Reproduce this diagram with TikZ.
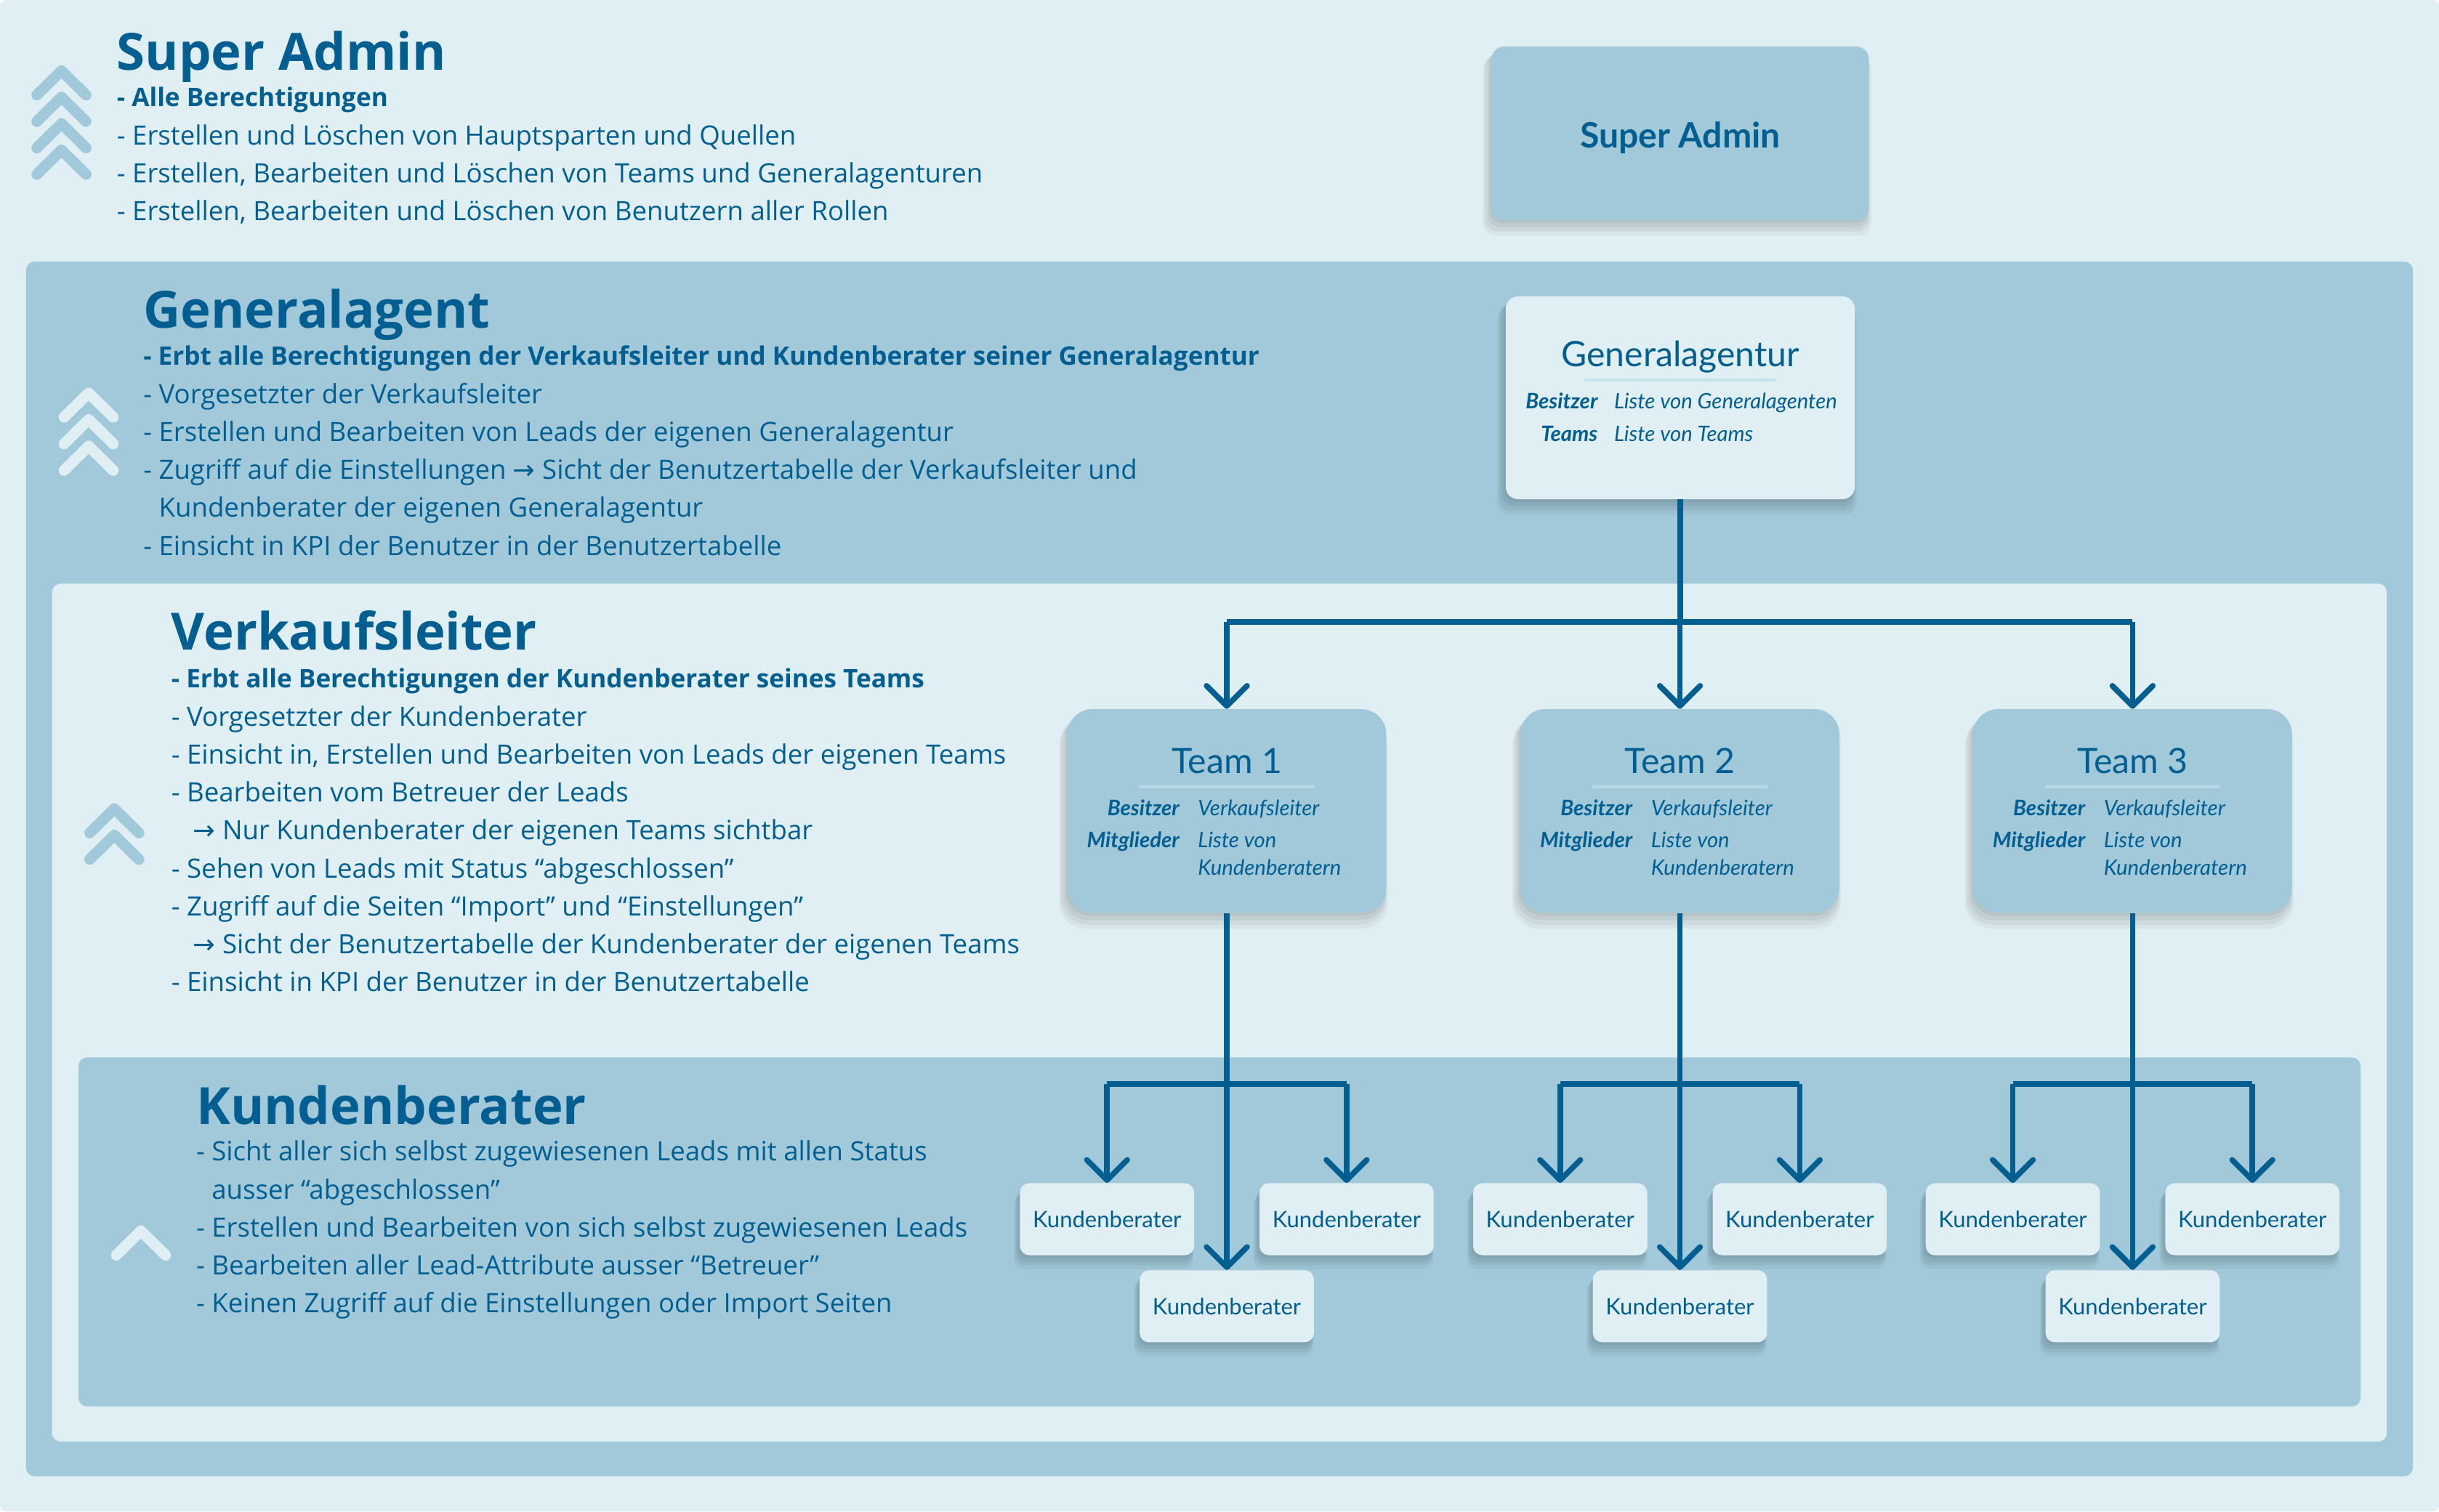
\documentclass[tikz,border=0pt]{standalone}
\usepackage{fontspec}
\setmainfont{Open Sans}
\newfontfamily\boxfont{Lato}
\newfontfamily\arrowfont{DejaVu Sans}
\usepackage{tikz}
\usetikzlibrary{arrows.meta,calc,shadows}
\definecolor{paleblue}{RGB}{224,239,243}
\definecolor{midblue}{RGB}{161,201,217}
\definecolor{inkblue}{RGB}{0,94,145}
\definecolor{rulepale}{RGB}{200,226,234}
\definecolor{rulemid}{RGB}{182,215,228}
\def\lead{24.4}
\def\arm{15.8}
\newcommand\arr{{\arrowfont →}}
\newcommand\topline[1]{{\fontsize{16.4}{\lead}\selectfont\bfseries #1}}
\newcommand\chev[3]{\draw[chevron, #3] (#1-\arm,#2+15.6) -- (#1,#2) -- (#1+\arm,#2+15.6);}
\tikzset{panel/.style={rounded corners=5.5pt}}
\tikzset{chevron/.style={line width=7pt, line cap=round, line join=round}}
\tikzset{heading/.style={anchor=base west, inner sep=0, text=inkblue, font={\fontsize{33}{40}\selectfont\bfseries}}}
\tikzset{bullets/.style={anchor=base west, inner sep=0, text=inkblue, align=left, font={\fontsize{17.1}{\lead}\selectfont}}}
\tikzset{lift/.style={
  general shadow={fill=black, opacity=.05, shadow xshift=-1pt, shadow yshift=-2pt},
  general shadow={fill=black, opacity=.05, shadow xshift=-1.5pt, shadow yshift=-4pt, shadow scale=1.01},
  general shadow={fill=black, opacity=.05, shadow xshift=-2pt, shadow yshift=-6pt, shadow scale=1.02},
  general shadow={fill=black, opacity=.04, shadow xshift=-2pt, shadow yshift=-8pt, shadow scale=1.03}}}
\tikzset{card/.style={lift, rounded corners=8pt, inner sep=0, text=inkblue}}
\tikzset{team/.style={card, fill=midblue, minimum width=205pt, minimum height=131pt, rounded corners=16pt}}
\tikzset{kb/.style={card, fill=paleblue, minimum width=112pt, minimum height=46.3pt, rounded corners=6pt, font={\boxfont\fontsize{14.5}{16}\selectfont}}}
\tikzset{cardtitle/.style={anchor=base, inner sep=0, text=inkblue, font={\boxfont\fontsize{22.5}{24}\selectfont}}}
\tikzset{key/.style={anchor=base east, inner sep=0, text=inkblue, font={\boxfont\fontsize{13.7}{14}\selectfont\bfseries\itshape}}}
\tikzset{val/.style={anchor=base west, inner sep=0, text=inkblue, align=left, font={\boxfont\fontsize{13.7}{17.6}\selectfont\itshape}}}
\tikzset{link/.style={draw=inkblue, line width=3.6pt}}
\tikzset{tip/.style={link, -{Straight Barb[length=13pt, width=26pt, line cap=round, line join=round]}}}

\begin{document}
\begin{tikzpicture}[x=1pt, y=-1pt]
\useasboundingbox (0,0) rectangle (1568,972);
% nested panels
\fill[white] (0,0) rectangle (1568,972);
\fill[paleblue, rounded corners=4pt] (0,0) rectangle (1568,972);
\fill[midblue, panel] (16.8,168.2) rectangle (1551.2,949.3);
\fill[paleblue, panel] (33.5,375.3) rectangle (1534.4,927);
\fill[midblue, panel] (50.5,680) rectangle (1517.6,904.4);

% rank chevrons
\chev{39.5}{45.5}{midblue}
\chev{39.5}{62.5}{midblue}
\chev{39.5}{79.5}{midblue}
\chev{39.5}{96.5}{midblue}
\chev{57}{252.7}{paleblue}
\chev{57}{269.8}{paleblue}
\chev{57}{286.9}{paleblue}
\chev{73.5}{520}{midblue}
\chev{73.5}{537}{midblue}
\chev{90.6}{791.5}{paleblue}

% role texts (a list node sits on its last baseline)
\node[heading] (sahead) at (75,45) {Super Admin};
\node[bullets] (salist) at (75,141.8) {\topline{- Alle Berechtigungen}\\
- Erstellen und Löschen von Hauptsparten und Quellen\\
- Erstellen, Bearbeiten und Löschen von Teams und Generalagenturen\\
- Erstellen, Bearbeiten und Löschen von Benutzern aller Rollen};

\node[heading] (gahead) at (92,211) {Generalagent};
\node[bullets] (galist) at (92,357) {\topline{- Erbt alle Berechtigungen der Verkaufsleiter und Kundenberater seiner Generalagentur}\\
- Vorgesetzter der Verkaufsleiter\\
- Erstellen und Bearbeiten von Leads der eigenen Generalagentur\\
- Zugriff auf die Einstellungen \arr{} Sicht der Benutzertabelle der Verkaufsleiter und\\
\phantom{- }Kundenberater der eigenen Generalagentur\\
- Einsicht in KPI der Benutzer in der Benutzertabelle};

\node[heading] (vlhead) at (110,418) {Verkaufsleiter};
\node[bullets] (vllist) at (110,637.6) {\topline{- Erbt alle Berechtigungen der Kundenberater seines Teams}\\
- Vorgesetzter der Kundenberater\\
- Einsicht in, Erstellen und Bearbeiten von Leads der eigenen Teams\\
- Bearbeiten vom Betreuer der Leads\\
\hspace*{14pt}\arr{} Nur Kundenberater der eigenen Teams sichtbar\\
- Sehen von Leads mit Status “abgeschlossen”\\
- Zugriff auf die Seiten “Import” und “Einstellungen”\\
\hspace*{14pt}\arr{} Sicht der Benutzertabelle der Kundenberater der eigenen Teams\\
- Einsicht in KPI der Benutzer in der Benutzertabelle};

\node[heading] (kbhead) at (126,723) {Kundenberater};
\node[bullets] (kblist) at (126,844.2) {- Sicht aller sich selbst zugewiesenen Leads mit allen Status\\
\phantom{- }ausser “abgeschlossen”\\
- Erstellen und Bearbeiten von sich selbst zugewiesenen Leads\\
- Bearbeiten aller Lead-Attribute ausser “Betreuer”\\
- Keinen Zugriff auf die Einstellungen oder Import Seiten};

% org chart
\node[card, fill=midblue, minimum width=242.5pt, minimum height=111.7pt, text height=18.4pt, text depth=0pt, font={\boxfont\fontsize{22.5}{24}\selectfont\bfseries}] (sa) at (1080.2,85.8) {Super Admin};

\node[card, fill=paleblue, minimum width=224.4pt, minimum height=130.4pt] (ga) at (1080.2,255.8) {};
\node[cardtitle] (gatitle) at ($(ga.north)+(0,45.4)$) {Generalagentur};
\draw[rulepale, line width=2pt, line cap=round] ($(ga.north)+(-61,54)$) -- ($(ga.north)+(61,54)$);
\node[key] (gak1) at ($(ga.north west)+(59.5,72.4)$) {Besitzer};
\node[val] (gav1) at ($(ga.north west)+(69.7,72.4)$) {Liste von Generalagenten};
\node[key] (gak2) at ($(ga.north west)+(59.5,93.4)$) {Teams};
\node[val] (gav2) at ($(ga.north west)+(69.7,93.4)$) {Liste von Teams};

\foreach \n/\cx in {1/788.7, 2/1080, 3/1371} {
  \node[team] (t\n) at (\cx,521.5) {};
  \node[cardtitle] (tt\n) at ($(t\n.north)+(0,41.6)$) {Team \n};
  \draw[rulemid, line width=2pt, line cap=round] ($(t\n.north)+(-55.6,50)$) -- ($(t\n.north)+(55.6,50)$);
  \node[key] (tk\n) at ($(t\n.north west)+(72.4,68.8)$) {Besitzer};
  \node[val] (tv\n) at ($(t\n.north west)+(84,68.8)$) {Verkaufsleiter};
  \node[key] (tm\n) at ($(t\n.north west)+(72.4,89.4)$) {Mitglieder};
  \node[val] (tl\n) at ($(t\n.north west)+(84,107)$) {Liste von\\Kundenberatern};
  \node[kb] (kl\n) at (\cx-77,784) {Kundenberater};
  \node[kb] (kr\n) at (\cx+77,784) {Kundenberater};
  \node[kb] (kc\n) at (\cx,840) {Kundenberater};
  \coordinate (j\n) at (\cx,697);
  \draw[tip] (t\n.south) -- (kc\n.north);
  \draw[link] (kl\n.north |- j\n) -- (kr\n.north |- j\n);
  \draw[tip] (kl\n.north |- j\n) -- (kl\n.north);
  \draw[tip] (kr\n.north |- j\n) -- (kr\n.north);
}

\coordinate (fork) at (1080,400);
\draw[link] (ga.south) -- (ga.south |- fork);
\draw[link] (t1.north |- fork) -- (t3.north |- fork);
\draw[tip] (t1.north |- fork) -- (t1.north);
\draw[tip] (t2.north |- fork) -- (t2.north);
\draw[tip] (t3.north |- fork) -- (t3.north);
\end{tikzpicture}
\end{document}
